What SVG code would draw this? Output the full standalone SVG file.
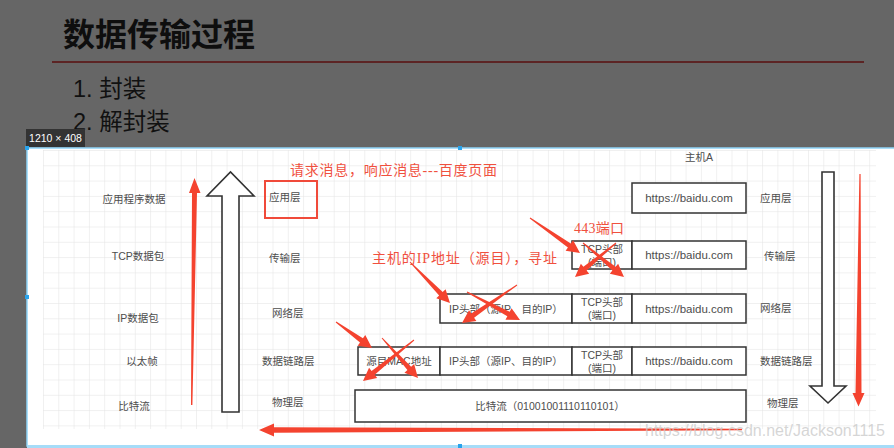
<svg xmlns="http://www.w3.org/2000/svg" width="894" height="448" viewBox="0 0 894 448">
<style>
.sans{font-family:"Liberation Sans","Noto Sans CJK SC",sans-serif;}
.lbl{font-family:"Liberation Sans","Noto Sans CJK SC",sans-serif;font-size:10.5px;fill:#4d4d4d;dominant-baseline:central;}
.url{font-size:11.5px;}
.mid{text-anchor:middle;}
.box{fill:#fff;stroke:#333;stroke-width:1.5;}
.red{fill:#f4432f;}
.rtxt{font-family:"Liberation Serif","Noto Sans CJK SC",serif;font-size:14px;fill:#f0503e;dominant-baseline:central;}
.hollow{fill:#fff;stroke:#333;stroke-width:1.6;stroke-linejoin:miter;}
</style>
<defs>
<pattern id="grid" x="43" y="150" width="15.3" height="15.3" patternUnits="userSpaceOnUse">
<path d="M15.3 0H0V15.3" fill="none" stroke="#e2e2e2" stroke-width="1"/>
</pattern>
</defs>
<rect x="0" y="0" width="894" height="448" fill="#666"/>
<text x="63" y="46" class="sans" font-size="32" font-weight="bold" fill="#0e0e0e">数据传输过程</text>
<line x1="52" y1="62" x2="864" y2="62" stroke="#5c2424" stroke-width="2"/>
<text x="73" y="97" class="sans" font-size="23.5" fill="#111">1. 封装</text>
<text x="73" y="130" class="sans" font-size="23.5" fill="#111">2. 解封装</text>
<rect x="26" y="129" width="59" height="18" fill="#333"/>
<text x="55.5" y="138" class="sans mid" font-size="10.5" fill="#fff" dominant-baseline="central">1210 × 408</text>
<rect x="27" y="148" width="868" height="298" fill="#fff" stroke="#8fd3f7" stroke-width="1.5"/>
<rect x="27" y="445" width="868" height="3" fill="#a6dcf8"/>
<rect x="43" y="150" width="833" height="279" fill="url(#grid)"/>
<g fill="#29a3ec">
<rect x="25" y="146" width="4" height="4"/><rect x="25" y="295" width="4" height="4"/><rect x="458" y="146" width="4" height="4"/><rect x="458" y="444" width="4" height="4"/>
</g>
<g id="left-labels">
<text x="134" y="199" class="lbl mid">应用程序数据</text>
<text x="138" y="256" class="lbl mid">TCP数据包</text>
<text x="138" y="318" class="lbl mid">IP数据包</text>
<text x="142" y="361" class="lbl mid">以太帧</text>
<text x="134" y="406" class="lbl mid">比特流</text>
</g>
<g id="mid-labels">
<rect x="265" y="181" width="52" height="37" fill="none" stroke="#f04a3a" stroke-width="2"/>
<text x="269" y="197" class="lbl">应用层</text>
<text x="269" y="258" class="lbl">传输层</text>
<text x="272" y="313" class="lbl">网络层</text>
<text x="262" y="361" class="lbl">数据链路层</text>
<text x="272" y="402" class="lbl">物理层</text>
</g>
<g id="right-labels">
<text x="699" y="157" class="lbl mid">主机A</text>
<text x="760" y="198" class="lbl">应用层</text>
<text x="764" y="256" class="lbl">传输层</text>
<text x="760" y="308" class="lbl">网络层</text>
<text x="760" y="361" class="lbl">数据链路层</text>
<text x="767" y="403" class="lbl">物理层</text>
</g>
<g id="row-app">
<rect x="632" y="183" width="114" height="30" class="box"/>
<text x="689" y="198" class="lbl url mid">https://baidu.com</text>
</g>
<g id="row-transport">
<rect x="572" y="241" width="60" height="28" class="box"/>
<text x="602" y="249" class="lbl mid">TCP头部</text>
<text x="602" y="262" class="lbl mid">(端口)</text>
<rect x="632" y="241" width="114" height="28" class="box"/>
<text x="689" y="255" class="lbl url mid">https://baidu.com</text>
</g>
<g id="row-network">
<rect x="440" y="294" width="132" height="29" class="box"/>
<text x="506" y="308.5" class="lbl mid">IP头部（源IP、目的IP）</text>
<rect x="572" y="294" width="60" height="29" class="box"/>
<text x="602" y="302" class="lbl mid">TCP头部</text>
<text x="602" y="315" class="lbl mid">(端口)</text>
<rect x="632" y="294" width="114" height="29" class="box"/>
<text x="689" y="308.5" class="lbl url mid">https://baidu.com</text>
</g>
<g id="row-datalink">
<rect x="358" y="347" width="82" height="28" class="box"/>
<text x="399" y="361" class="lbl mid">源目MAC地址</text>
<rect x="440" y="347" width="132" height="28" class="box"/>
<text x="506" y="361" class="lbl mid">IP头部（源IP、目的IP）</text>
<rect x="572" y="347" width="60" height="28" class="box"/>
<text x="602" y="355" class="lbl mid">TCP头部</text>
<text x="602" y="368" class="lbl mid">(端口)</text>
<rect x="632" y="347" width="114" height="28" class="box"/>
<text x="689" y="361" class="lbl url mid">https://baidu.com</text>
</g>
<g id="row-physical">
<rect x="355" y="390" width="391" height="32" class="box"/>
<text x="550" y="406" class="lbl mid">比特流（01001001110110101）</text>
</g>
<g id="annotations">
<text x="290" y="170" class="rtxt" textLength="207">请求消息，响应消息---百度页面</text>
<text x="372" y="258" class="rtxt" textLength="185">主机的IP地址（源目），寻址</text>
<text x="574" y="228" class="rtxt" textLength="50">443端口</text>
</g>
<g id="connectors">
<polygon class="hollow" points="222,412 222,196 207,196 230.5,172 254,196 239,196 239,412"/>
<polygon class="hollow" points="822,172 834,172 834,386 846,386 828,403 810,386 822,386"/>
<polygon class="red" points="191,405 192,193 189,193 194.5,178 200.5,193 197,193 192.4,405"/>
<polygon class="red" points="859.4,174 860.6,174 861.5,393 864.5,393 858.5,406.5 852.5,393 855.5,393"/>
<polygon class="red" points="259,430 274,423.5 274,427.3 742,428.8 742,430.2 274,432.7 274,436.5"/>
<polygon class="red" points="529.71,218.41 567.92,247.59 565.62,250.87 580,253 573.08,240.21 570.78,243.49 530.29,217.59"/>
<polygon class="red" points="582.68,243.38 612.39,270.62 609.84,273.7 624,277 618.14,263.7 615.59,266.78 583.32,242.62"/>
<polygon class="red" points="615.68,242.62 583.41,266.78 580.86,263.7 575,277 589.16,273.7 586.61,270.62 616.32,243.38"/>
<polygon class="red" points="409.64,262.35 439.13,295.44 436.27,298.23 450,303 445.57,289.15 442.71,291.94 410.36,261.65"/>
<polygon class="red" points="466.77,292.44 507.34,316.14 505.47,319.68 520,320 511.55,308.18 509.68,311.72 467.23,291.56"/>
<polygon class="red" points="516.72,284.59 471.28,313.55 469.01,310.26 462,323 476.39,320.96 474.12,317.67 517.28,285.41"/>
<polygon class="red" points="335.71,322.41 360,342.42 357.65,345.66 372,348 365.27,335.12 362.92,338.36 336.29,321.59"/>
<polygon class="red" points="381.63,338.33 407.44,370.01 404.47,372.69 418,378 414.13,363.99 411.16,366.67 382.37,337.67"/>
<polygon class="red" points="413.69,339.61 371.56,370.91 369.06,367.79 363,381 377.2,377.93 374.7,374.81 414.31,340.39"/>
</g>
<text x="645" y="436" class="sans" font-size="16" fill="#c8c8c8" fill-opacity="0.75" textLength="240">https://blog.csdn.net/Jackson1115</text>
</svg>
